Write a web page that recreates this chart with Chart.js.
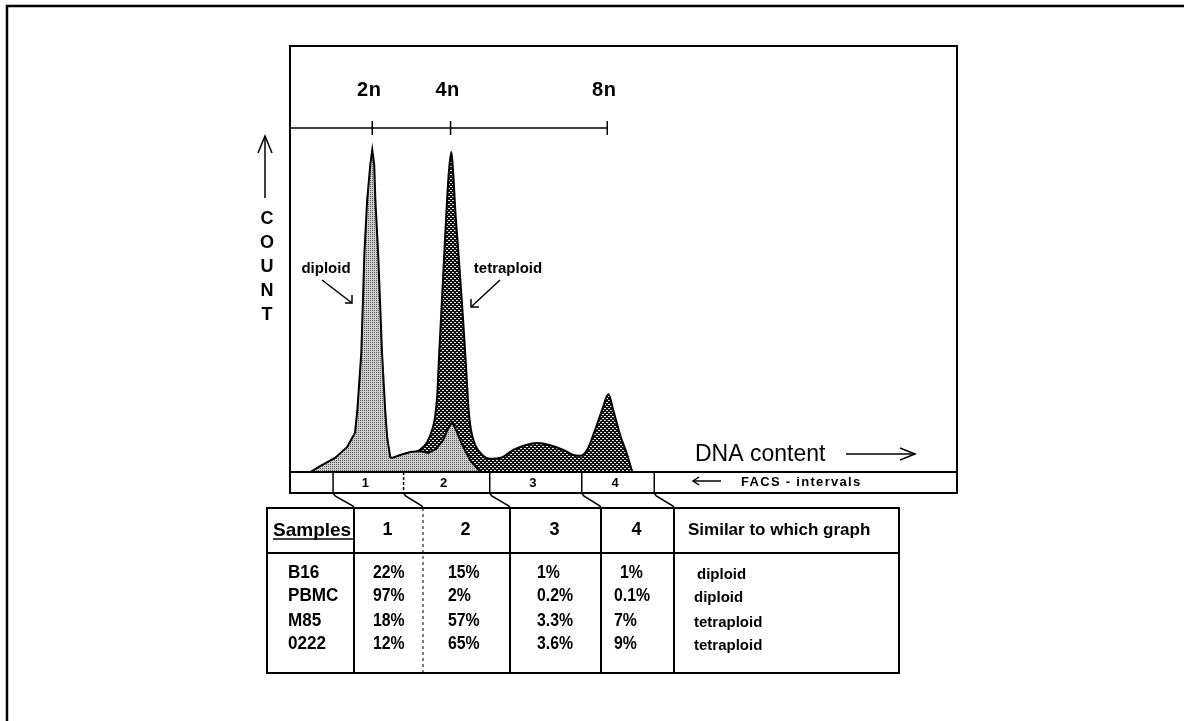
<!DOCTYPE html>
<html>
<head>
<meta charset="utf-8">
<style>
  html, body { margin: 0; padding: 0; background: #ffffff; }
  #wrap { width: 1184px; height: 721px; position: relative; }
  canvas { display: block; }
</style>
<script src="https://cdn.jsdelivr.net/npm/chart.js@4.4.1/dist/chart.umd.min.js"></script>
</head>
<body>
<div id="wrap"><canvas id="facs" width="1184" height="721"></canvas></div>
<script>
// DNA content axis in units of n (haploid DNA content)
const xMin = -0.1;
const xMax = 16.93;

// Diploid reference histogram (DNA content in n, relative count)
const diploidX = [0.42, 0.67, 1.05, 1.36, 1.56, 1.62, 1.72, 1.80, 1.87, 1.95, 2.00, 2.05, 2.08, 2.15, 2.25, 2.33, 2.38, 2.46, 2.51, 2.71, 2.97, 3.22, 3.43, 3.63, 3.81, 3.94, 4.04, 4.14, 4.30, 4.50, 4.76];
const diploidY = [0, 1.4, 3.3, 5.9, 9.2, 14.6, 27.9, 51.4, 63.8, 72.1, 75.6, 72.1, 63.8, 51.4, 27.9, 14.6, 8.2, 3.5, 3.3, 4.0, 4.7, 4.9, 4.5, 5.4, 7.5, 10.3, 11.7, 9.9, 6.3, 2.8, 0];

// Tetraploid reference histogram
const tetraploidX = [2.46, 2.71, 3.05, 3.22, 3.40, 3.53, 3.60, 3.66, 3.71, 3.78, 3.84, 3.91, 3.96, 4.02, 4.07, 4.12, 4.20, 4.32, 4.40, 4.46, 4.52, 4.63, 4.81, 5.01, 5.27, 5.60, 5.91, 6.21, 6.54, 6.88, 7.13, 7.31, 7.49, 7.69, 7.87, 8.03, 8.15, 8.33, 8.51, 8.64];
const tetraploidY = [0, 2.1, 4.2, 5.2, 7.0, 9.9, 12.7, 18.1, 27.9, 40.4, 51.4, 63.8, 70.9, 75.1, 69.7, 61.5, 51.4, 35.7, 23.9, 14.6, 9.9, 6.3, 4.0, 3.1, 3.3, 5.2, 6.3, 6.8, 6.3, 5.2, 4.0, 3.8, 5.2, 9.9, 14.6, 18.3, 14.6, 8.7, 4.0, 0];

// Ploidy markers on the DNA content scale
const ploidyValues = [2, 4, 8];
const ploidyLabels = ['2n', '4n', '8n'];

// FACS gate boundaries (DNA content, n) and gate names
const intervalEdges = [1.0, 2.8, 5.0, 7.35, 9.2];
const intervalLabels = ['1', '2', '3', '4'];

// Fraction of cells per FACS interval for each sample
const samples = ['B16', 'PBMC', 'M85', '0222'];
const interval1 = [22, 97, 18, 12];
const interval2 = [15, 2, 57, 65];
const interval3 = [1, 0.2, 3.3, 3.6];
const interval4 = [1, 0.1, 7, 9];
const similarTo = ['diploid', 'diploid', 'tetraploid', 'tetraploid'];

const FONT = '"Liberation Sans", Arial, Helvetica, sans-serif';

function makePattern(w, h, bg, fg, dots) {
  const c = document.createElement('canvas');
  c.width = w; c.height = h;
  const g = c.getContext('2d');
  g.fillStyle = bg; g.fillRect(0, 0, w, h);
  g.fillStyle = fg;
  dots.forEach(([px, py]) => g.fillRect(px, py, 1, 1));
  return g.createPattern(c, 'repeat');
}

const ctx0 = document.getElementById('facs').getContext('2d');
const lightStipple = makePattern(2, 2, '#cccccc', '#5e5e5e', [[0, 0]]);
const darkHatch = makePattern(4, 4, '#121212', '#e8e8e8', [[0, 0], [1, 0], [2, 2], [3, 2]]);

function toPoints(xs, ys) { return xs.map((x, i) => ({ x: x, y: ys[i] })); }

function txt(ctx, s, x, y, size, opt) {
  opt = opt || {};
  ctx.save();
  ctx.font = (opt.bold ? 'bold ' : '') + size + 'px ' + FONT;
  ctx.textAlign = opt.align || 'left';
  ctx.textBaseline = 'alphabetic';
  ctx.letterSpacing = (opt.ls || 0) + 'px';
  ctx.fillStyle = '#000';
  ctx.translate(x, y + (opt.lower ? 0.3 : 0.36) * size);
  ctx.scale(opt.sx || 1, 1);
  ctx.fillText(s, 0, 0);
  ctx.restore();
}

function line(ctx, pts, w, dash) {
  ctx.save();
  ctx.lineWidth = w || 1.5;
  ctx.strokeStyle = '#000';
  ctx.setLineDash(dash || []);
  ctx.beginPath();
  pts.forEach((p, i) => i ? ctx.lineTo(p[0], p[1]) : ctx.moveTo(p[0], p[1]));
  ctx.stroke();
  ctx.restore();
}

function pct(v) { return v + '%'; }

const figurePlugin = {
  id: 'figureFurniture',
  afterDraw(chart) {
    const ctx = chart.ctx;
    const a = chart.chartArea;
    const xs = chart.scales.x;
    const px = v => xs.getPixelForValue(v);

    // page frame
    line(ctx, [[7, 721], [7, 6], [1184, 6]], 2.5);

    // plot box
    ctx.save(); ctx.lineWidth = 2; ctx.strokeStyle = '#000';
    ctx.strokeRect(a.left, a.top, a.right - a.left, a.bottom - a.top);
    ctx.restore();

    // ploidy scale
    const sy = 128;
    line(ctx, [[a.left, sy], [px(ploidyValues[ploidyValues.length - 1]), sy]], 1.5);
    ploidyValues.forEach((v, i) => {
      line(ctx, [[px(v), sy - 7], [px(v), sy + 7]], 1.5);
      txt(ctx, ploidyLabels[i], px(v) - 3, 89, 20, { bold: true, align: 'center', ls: 0.5 });
    });

    // count axis label
    line(ctx, [[265, 198], [265, 136]], 1.5);
    line(ctx, [[258, 153], [265, 136], [272, 153]], 1.5);
    'COUNT'.split('').forEach((ch, i) => txt(ctx, ch, 267, 218 + i * 24, 18, { bold: true, align: 'center' }));

    // peak labels
    txt(ctx, 'diploid', 326, 268, 15, { bold: true, align: 'center', lower: true });
    line(ctx, [[322, 280], [352, 303]], 1.5);
    line(ctx, [[345, 303], [352, 303], [352, 295]], 1.5);
    txt(ctx, 'tetraploid', 508, 268, 15, { bold: true, align: 'center', lower: true });
    line(ctx, [[500, 280], [471, 307]], 1.5);
    line(ctx, [[479, 307], [471, 307], [471, 299]], 1.5);

    // DNA content label
    txt(ctx, 'DNA content', 695, 453, 23, {});
    line(ctx, [[846, 454], [915, 454]], 1.5);
    line(ctx, [[900, 448], [915, 454], [900, 460]], 1.5);

    // FACS interval bar
    const bt = a.bottom, bb = 493;
    ctx.save(); ctx.lineWidth = 2; ctx.strokeStyle = '#000';
    ctx.strokeRect(a.left, bt, a.right - a.left, bb - bt);
    ctx.restore();
    intervalEdges.forEach((e, i) => {
      line(ctx, [[px(e), bt], [px(e), bb]], 1.5, i === 1 ? [3, 2] : []);
    });
    intervalLabels.forEach((l, i) => {
      const c = (px(intervalEdges[i]) + px(intervalEdges[i + 1])) / 2 - 3;
      txt(ctx, l, c, 482, 13, { bold: true, align: 'center' });
    });
    line(ctx, [[693, 481], [721, 481]], 1.5);
    line(ctx, [[699, 477], [693, 481], [699, 485]], 1.5);
    txt(ctx, 'FACS - intervals', 741, 481, 13, { bold: true, ls: 1.3 });

    // table
    const tL = 267, tR = 899, tT = 508, tH = 553, tB = 673;
    const cols = [354, 423, 510, 601, 674];
    ctx.save(); ctx.lineWidth = 2; ctx.strokeStyle = '#000';
    ctx.strokeRect(tL, tT, tR - tL, tB - tT);
    ctx.restore();
    line(ctx, [[tL, tH], [tR, tH]], 2);
    cols.forEach((c, i) => {
      if (i === 1) line(ctx, [[c, tT], [c, tB]], 1, [3, 3]);
      else line(ctx, [[c, tT], [c, tB]], 2);
    });
    // connectors from gate boundaries to table columns
    intervalEdges.forEach((e, i) => {
      const x0 = px(e), x1 = cols[i];
      line(ctx, [[x0, bb], [x0 + 2, bb + 3], [x1 - 1, tT - 2], [x1, tT]], 1.5);
    });

    // header row
    txt(ctx, 'Samples', 273, 529, 19, { bold: true });
    line(ctx, [[273, 539], [353, 539]], 1.5);
    intervalLabels.forEach((l, i) => {
      txt(ctx, l, (cols[i] + cols[i + 1]) / 2 - 1, 529, 18, { bold: true, align: 'center' });
    });
    txt(ctx, 'Similar to which graph', 688, 529, 17, { bold: true });

    // body rows
    const rowY = [572, 595, 620, 643];
    const colX = [373, 448, 537, 614];
    const series = [interval1, interval2, interval3, interval4];
    samples.forEach((s, r) => {
      txt(ctx, s, 288, rowY[r], 18, { bold: true, sx: 0.95 });
      series.forEach((vals, c) => {
        const indent = (c === 3 && vals[r] === 1) ? 6 : 0;
        txt(ctx, pct(vals[r]), colX[c] + indent, rowY[r], 18, { bold: true, sx: 0.88 });
      });
      txt(ctx, similarTo[r], r === 0 ? 697 : 694, rowY[r] + 2, 15, { bold: true, lower: true });
    });
  }
};

new Chart(ctx0, {
  type: 'line',
  data: {
    datasets: [
      {
        label: 'diploid',
        data: toPoints(diploidX, diploidY),
        borderColor: '#000',
        borderWidth: 2,
        backgroundColor: lightStipple,
        fill: 'origin',
        pointRadius: 0,
        tension: 0,
        order: 0
      },
      {
        label: 'tetraploid',
        data: toPoints(tetraploidX, tetraploidY),
        borderColor: '#000',
        borderWidth: 2,
        backgroundColor: darkHatch,
        fill: 'origin',
        pointRadius: 0,
        cubicInterpolationMode: 'monotone',
        order: 1
      }
    ]
  },
  options: {
    responsive: false,
    devicePixelRatio: 1,
    animation: false,
    layout: { padding: { left: 290, top: 46, right: 1184 - 957, bottom: 721 - 472 } },
    scales: {
      x: { type: 'linear', min: xMin, max: xMax, display: false },
      y: { type: 'linear', min: 0, max: 100, display: false }
    },
    plugins: { legend: { display: false }, tooltip: { enabled: false } }
  },
  plugins: [figurePlugin]
});
</script>
</body>
</html>
